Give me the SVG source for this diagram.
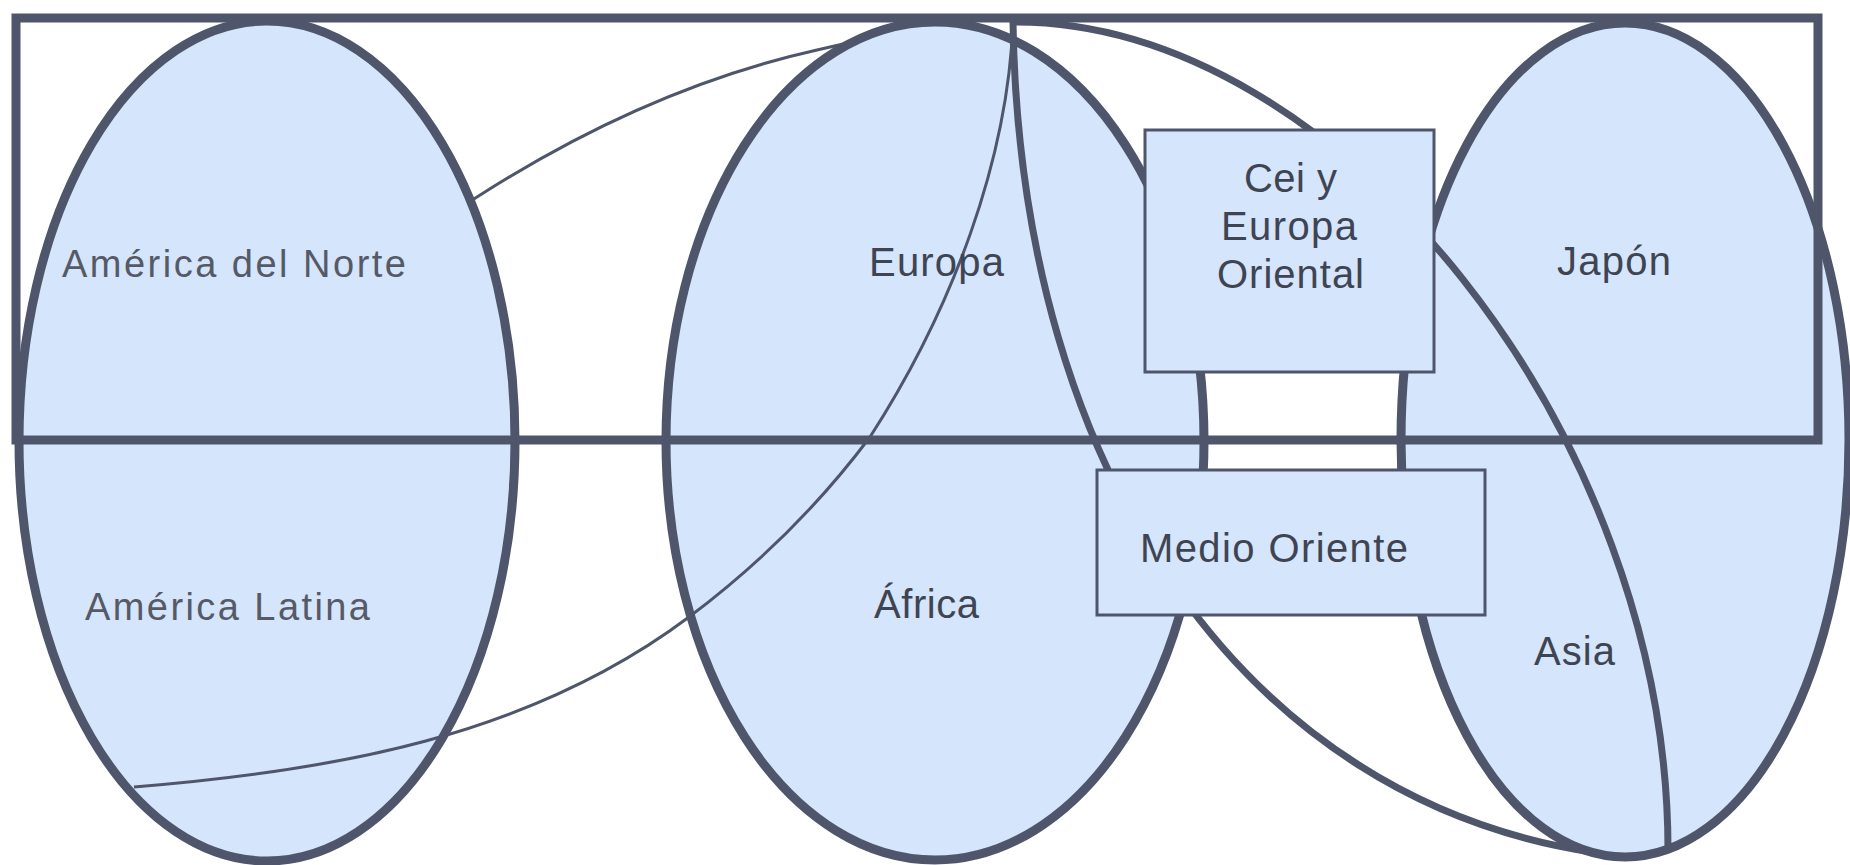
<svg xmlns="http://www.w3.org/2000/svg" width="1850" height="865" viewBox="0 0 1850 865">
<style>
.region{fill:#d5e5fc;stroke:#4f566b;stroke-width:9}
.frame{fill:none;stroke:#4f566b;stroke-width:9}
.thin{fill:none;stroke:#4f566b;stroke-width:3}
.thick{fill:none;stroke:#4f566b;stroke-width:7}
.box{fill:#d5e5fc;stroke:#4f566b;stroke-width:3}
.lbl{font-family:"Liberation Sans",Arial,sans-serif;font-size:40px;fill:#3f4452}
.lbl2{font-family:"Liberation Sans",Arial,sans-serif;font-size:38px;fill:#555a66}
</style>
<rect x="0" y="0" width="1850" height="865" fill="#ffffff"/>
<g id="connectors-back">
<path class="thin" d="M 460 208 L 477 197 Q 647 88 817 50 L 852 42"/>
</g>
<g id="america">
<ellipse class="region" cx="267" cy="441" rx="248" ry="420"/>
</g>
<g id="europa-africa">
<ellipse class="region" cx="935" cy="441" rx="269" ry="419"/>
</g>
<g id="japon-asia">
<ellipse class="region" cx="1625" cy="440" rx="224" ry="417"/>
</g>
<g id="frame">
<rect class="frame" x="16" y="18" width="1802" height="422"/>
</g>
<g id="connectors">
<path class="thin" d="M 1013 22 C 1008 160, 952 310, 870 437 C 819 505, 757 566, 689 617 C 529 737, 332 771, 134 787"/>
<path class="thick" d="M 1013 22 C 1020 480, 1250 800, 1592 852"/>
<path class="thick" d="M 1013 22 C 1340 20, 1668 435, 1668 850"/>
</g>
<g id="labels">
<text class="lbl2" x="62" y="277" textLength="344" lengthAdjust="spacing">América del Norte</text>
<text class="lbl2" x="85" y="620" textLength="285" lengthAdjust="spacing">América Latina</text>
<text class="lbl" x="869" y="276" textLength="135" lengthAdjust="spacing">Europa</text>
<text class="lbl" x="874" y="618" textLength="105" lengthAdjust="spacing">África</text>
<text class="lbl" x="1557" y="275" textLength="114" lengthAdjust="spacing">Japón</text>
<text class="lbl" x="1534" y="665" textLength="81" lengthAdjust="spacing">Asia</text>
</g>
<g id="cei">
<rect class="box" x="1145" y="130" width="289" height="242"/>
<text class="lbl" x="1244" y="192" textLength="93" lengthAdjust="spacing">Cei y</text>
<text class="lbl" x="1221" y="240" textLength="136" lengthAdjust="spacing">Europa</text>
<text class="lbl" x="1217" y="288" textLength="147" lengthAdjust="spacing">Oriental</text>
</g>
<g id="medio-oriente">
<rect class="box" x="1097" y="470" width="388" height="145"/>
<text class="lbl" x="1140" y="562" textLength="268" lengthAdjust="spacing">Medio Oriente</text>
</g>
</svg>
